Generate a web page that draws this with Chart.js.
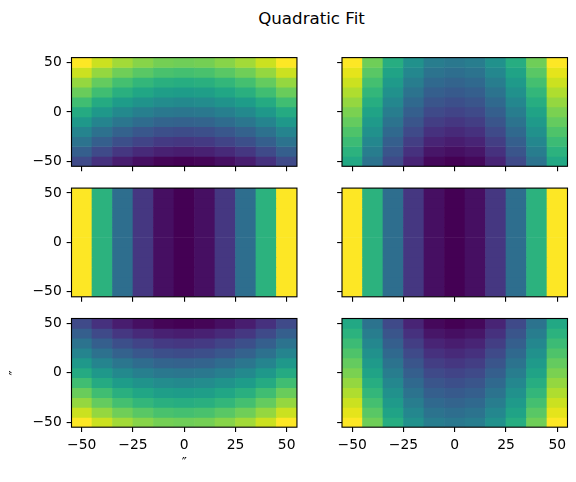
<!DOCTYPE html>
<html><head><meta charset="utf-8">
<script src="https://cdn.jsdelivr.net/npm/chart.js@4.4.1/dist/chart.umd.min.js"></script>
<style>
html,body{margin:0;padding:0;background:#fff;}
#fig{position:relative;width:576px;height:482px;overflow:hidden;background:#fff;}
#fig canvas{position:absolute;}
#title{position:absolute;top:11px;left:311.5px;transform:translateX(-50%);font:16.67px/1 "DejaVu Sans";color:#000;white-space:nowrap;}
</style></head><body>
<div id="fig"><div id="title"></div></div>
<script>
// ---- data ----
const chartTitle = 'Quadratic Fit';
const xCenters = [-50,-40,-30,-20,-10,0,10,20,30,40,50];
const yCenters = [50,40,30,20,10,0,-10,-20,-30,-40,-50]; // rows top -> bottom
const xTicks = [-50,-25,0,25,50];
const xTickLabels = ['\u221250','\u221225','0','25','50'];
const yTicks = [-50,0,50];
const yTickLabels = ['\u221250','0','50'];
const xLabel = '\u2033';
const yLabel = '\u2033';

const panel1 = [
[1.00,0.92,0.86,0.82,0.79,0.78,0.79,0.82,0.86,0.92,1.00],
[0.92,0.84,0.78,0.74,0.71,0.70,0.71,0.74,0.78,0.84,0.92],
[0.84,0.76,0.70,0.66,0.63,0.62,0.63,0.66,0.70,0.76,0.84],
[0.77,0.69,0.63,0.59,0.56,0.55,0.56,0.59,0.63,0.69,0.77],
[0.69,0.61,0.55,0.51,0.48,0.47,0.48,0.51,0.55,0.61,0.69],
[0.61,0.53,0.47,0.43,0.40,0.39,0.40,0.43,0.47,0.53,0.61],
[0.53,0.45,0.39,0.35,0.32,0.31,0.32,0.35,0.39,0.45,0.53],
[0.45,0.37,0.31,0.27,0.24,0.23,0.24,0.27,0.31,0.37,0.45],
[0.38,0.30,0.24,0.20,0.17,0.16,0.17,0.20,0.24,0.30,0.38],
[0.30,0.22,0.16,0.12,0.09,0.08,0.09,0.12,0.16,0.22,0.30],
[0.22,0.14,0.08,0.04,0.01,0.00,0.01,0.04,0.08,0.14,0.22]
];
const panel2 = [
[1.00,0.78,0.62,0.50,0.42,0.40,0.42,0.50,0.62,0.78,1.00],
[0.96,0.74,0.58,0.46,0.38,0.36,0.38,0.46,0.58,0.74,0.96],
[0.92,0.70,0.54,0.42,0.34,0.32,0.34,0.42,0.54,0.70,0.92],
[0.88,0.66,0.50,0.38,0.30,0.28,0.30,0.38,0.50,0.66,0.88],
[0.84,0.62,0.46,0.34,0.26,0.24,0.26,0.34,0.46,0.62,0.84],
[0.80,0.58,0.42,0.30,0.22,0.20,0.22,0.30,0.42,0.58,0.80],
[0.76,0.54,0.38,0.26,0.18,0.16,0.18,0.26,0.38,0.54,0.76],
[0.72,0.50,0.34,0.22,0.14,0.12,0.14,0.22,0.34,0.50,0.72],
[0.68,0.46,0.30,0.18,0.10,0.08,0.10,0.18,0.30,0.46,0.68],
[0.64,0.42,0.26,0.14,0.06,0.04,0.06,0.14,0.26,0.42,0.64],
[0.60,0.38,0.22,0.10,0.02,0.00,0.02,0.10,0.22,0.38,0.60]
];
const panel3 = [
[1.00,0.64,0.36,0.16,0.04,0.00,0.04,0.16,0.36,0.64,1.00],
[1.00,0.64,0.36,0.16,0.04,0.00,0.04,0.16,0.36,0.64,1.00],
[1.00,0.64,0.36,0.16,0.04,0.00,0.04,0.16,0.36,0.64,1.00],
[1.00,0.64,0.36,0.16,0.04,0.00,0.04,0.16,0.36,0.64,1.00],
[1.00,0.64,0.36,0.16,0.04,0.00,0.04,0.16,0.36,0.64,1.00],
[1.00,0.64,0.36,0.16,0.04,0.00,0.04,0.16,0.36,0.64,1.00],
[1.00,0.64,0.36,0.16,0.04,0.00,0.04,0.16,0.36,0.64,1.00],
[1.00,0.64,0.36,0.16,0.04,0.00,0.04,0.16,0.36,0.64,1.00],
[1.00,0.64,0.36,0.16,0.04,0.00,0.04,0.16,0.36,0.64,1.00],
[1.00,0.64,0.36,0.16,0.04,0.00,0.04,0.16,0.36,0.64,1.00],
[1.00,0.64,0.36,0.16,0.04,0.00,0.04,0.16,0.36,0.64,1.00]
];
const panel4 = [
[1.00,0.64,0.36,0.16,0.04,0.00,0.04,0.16,0.36,0.64,1.00],
[1.00,0.64,0.36,0.16,0.04,0.00,0.04,0.16,0.36,0.64,1.00],
[1.00,0.64,0.36,0.16,0.04,0.00,0.04,0.16,0.36,0.64,1.00],
[1.00,0.64,0.36,0.16,0.04,0.00,0.04,0.16,0.36,0.64,1.00],
[1.00,0.64,0.36,0.16,0.04,0.00,0.04,0.16,0.36,0.64,1.00],
[1.00,0.64,0.36,0.16,0.04,0.00,0.04,0.16,0.36,0.64,1.00],
[1.00,0.64,0.36,0.16,0.04,0.00,0.04,0.16,0.36,0.64,1.00],
[1.00,0.64,0.36,0.16,0.04,0.00,0.04,0.16,0.36,0.64,1.00],
[1.00,0.64,0.36,0.16,0.04,0.00,0.04,0.16,0.36,0.64,1.00],
[1.00,0.64,0.36,0.16,0.04,0.00,0.04,0.16,0.36,0.64,1.00],
[1.00,0.64,0.36,0.16,0.04,0.00,0.04,0.16,0.36,0.64,1.00]
];
const panel5 = [
[0.22,0.14,0.08,0.04,0.01,0.00,0.01,0.04,0.08,0.14,0.22],
[0.30,0.22,0.16,0.12,0.09,0.08,0.09,0.12,0.16,0.22,0.30],
[0.38,0.30,0.24,0.20,0.17,0.16,0.17,0.20,0.24,0.30,0.38],
[0.45,0.37,0.31,0.27,0.24,0.23,0.24,0.27,0.31,0.37,0.45],
[0.53,0.45,0.39,0.35,0.32,0.31,0.32,0.35,0.39,0.45,0.53],
[0.61,0.53,0.47,0.43,0.40,0.39,0.40,0.43,0.47,0.53,0.61],
[0.69,0.61,0.55,0.51,0.48,0.47,0.48,0.51,0.55,0.61,0.69],
[0.77,0.69,0.63,0.59,0.56,0.55,0.56,0.59,0.63,0.69,0.77],
[0.84,0.76,0.70,0.66,0.63,0.62,0.63,0.66,0.70,0.76,0.84],
[0.92,0.84,0.78,0.74,0.71,0.70,0.71,0.74,0.78,0.84,0.92],
[1.00,0.92,0.86,0.82,0.79,0.78,0.79,0.82,0.86,0.92,1.00]
];
const panel6 = [
[0.60,0.38,0.22,0.10,0.02,0.00,0.02,0.10,0.22,0.38,0.60],
[0.64,0.42,0.26,0.14,0.06,0.04,0.06,0.14,0.26,0.42,0.64],
[0.68,0.46,0.30,0.18,0.10,0.08,0.10,0.18,0.30,0.46,0.68],
[0.72,0.50,0.34,0.22,0.14,0.12,0.14,0.22,0.34,0.50,0.72],
[0.76,0.54,0.38,0.26,0.18,0.16,0.18,0.26,0.38,0.54,0.76],
[0.80,0.58,0.42,0.30,0.22,0.20,0.22,0.30,0.42,0.58,0.80],
[0.84,0.62,0.46,0.34,0.26,0.24,0.26,0.34,0.46,0.62,0.84],
[0.88,0.66,0.50,0.38,0.30,0.28,0.30,0.38,0.50,0.66,0.88],
[0.92,0.70,0.54,0.42,0.34,0.32,0.34,0.42,0.54,0.70,0.92],
[0.96,0.74,0.58,0.46,0.38,0.36,0.38,0.46,0.58,0.74,0.96],
[1.00,0.78,0.62,0.50,0.42,0.40,0.42,0.50,0.62,0.78,1.00]
];

// ---- styling ----
const VIR = ['#440154','#471365','#482475','#463480','#414487','#3b528b','#355f8d','#2f6c8e','#2a788e','#25848e','#21918c','#1e9c89','#22a884','#2fb47c','#44bf70','#5ec962','#7ad151','#9bd93c','#bddf26','#dfe318','#fde725'];
function hex2rgb(h){return [parseInt(h.slice(1,3),16),parseInt(h.slice(3,5),16),parseInt(h.slice(5,7),16)];}
const VIRRGB = VIR.map(hex2rgb);
function viridis(t){
  t = Math.max(0, Math.min(1, t));
  const f = t*(VIRRGB.length-1);
  const i = Math.min(Math.floor(f), VIRRGB.length-2);
  const u = f - i;
  const a = VIRRGB[i], b = VIRRGB[i+1];
  return 'rgb(' + a.map((c,k)=>Math.round(c+(b[k]-c)*u)).join(',') + ')';
}

const FONT = 'DejaVu Sans';
const FS = 13.89;
const TICKLEN = 4.86;
const TICKPAD = 4.86;
const LW = 1.11;

const cols = [
  {x:0,   w:310, pl:7, yw:64.5, pr:13.05},
  {x:310, w:266, pl:0, yw:32,   pr:8.5}
];
const rows = [
  {y:40,  h:137, pt:17.6, xh:10,   pb:0.7},
  {y:177, h:130, pt:11.1, xh:10,   pb:0.2},
  {y:307, h:175, pt:11.5, xh:44.1, pb:10.7}
];

const boxPlugin = {
  id: 'box',
  afterDraw(chart){
    const {ctx, chartArea:a} = chart;
    ctx.save();
    ctx.strokeStyle = '#000';
    ctx.lineWidth = LW;
    ctx.strokeRect(a.left, a.top, a.right-a.left, a.bottom-a.top);
    ctx.restore();
  }
};

const fig = document.getElementById('fig');
document.getElementById('title').textContent = chartTitle;

function makePanel(matrix, ci, ri) {
  const col = cols[ci], row = rows[ri];
  const c = document.createElement('canvas');
  c.width = col.w; c.height = row.h;
  c.style.left = col.x + 'px'; c.style.top = row.y + 'px';
  c.style.width = col.w + 'px'; c.style.height = row.h + 'px';
  fig.appendChild(c);

  const flat = matrix.flat();
  const mn = Math.min(...flat), mx = Math.max(...flat);
  const hx = Math.abs(xCenters[1]-xCenters[0])/2;
  const hy = Math.abs(yCenters[1]-yCenters[0])/2;
  const xmin = Math.min(...xCenters)-hx, xmax = Math.max(...xCenters)+hx;
  const ymin = Math.min(...yCenters)-hy, ymax = Math.max(...yCenters)+hy;

  const datasets = yCenters.map((yc, r) => ({
    data: xCenters.map(x => ({x: x, y: [yc-hy, yc+hy]})),
    backgroundColor: matrix[r].map(v => viridis((v-mn)/(mx-mn))),
    borderWidth: 0,
    barPercentage: 1,
    categoryPercentage: 1,
    grouped: false
  }));

  const showXLabels = ri === 2;
  const showYLabels = ci === 0;

  new Chart(c, {
    type: 'bar',
    data: {datasets},
    plugins: [boxPlugin],
    options: {
      responsive: false,
      animation: false,
      devicePixelRatio: 1,
      events: [],
      layout: {padding: {left: col.pl, right: col.pr, top: row.pt, bottom: row.pb}},
      plugins: {legend: {display: false}, tooltip: {enabled: false}, title: {display: false}},
      scales: {
        x: {
          type: 'linear', min: xmin, max: xmax, offset: false, stacked: false,
          afterBuildTicks: s => { s.ticks = xTicks.map(v => ({value: v})); },
          afterFit: s => { s.height = row.xh; s.paddingLeft = 0; s.paddingRight = 0; s.paddingTop = 0; s.paddingBottom = 0; },
          ticks: {
            autoSkip: false, maxRotation: 0, minRotation: 0, padding: TICKPAD, color: '#000',
            font: {family: FONT, size: FS},
            callback: (v, i) => showXLabels ? xTickLabels[i] : ''
          },
          grid: {offset: false, drawOnChartArea: false, drawTicks: true, tickLength: TICKLEN, color: '#000', tickColor: '#000', lineWidth: LW, tickWidth: LW},
          border: {display: false},
          title: {display: showXLabels && ci === 0, text: xLabel, padding: 0, color: '#000', font: {family: FONT, size: FS}}
        },
        y: {
          type: 'linear', min: ymin, max: ymax, stacked: false, beginAtZero: false,
          afterBuildTicks: s => { s.ticks = yTicks.map(v => ({value: v})); },
          afterFit: s => { s.width = col.yw; s.paddingLeft = 0; s.paddingRight = 0; s.paddingTop = 0; s.paddingBottom = 0; },
          ticks: {
            autoSkip: false, padding: TICKPAD, color: '#000',
            font: {family: FONT, size: FS},
            callback: (v, i) => showYLabels ? yTickLabels[i] : ''
          },
          grid: {drawOnChartArea: false, drawTicks: true, tickLength: TICKLEN, color: '#000', tickColor: '#000', lineWidth: LW, tickWidth: LW},
          border: {display: false},
          title: {display: showYLabels && ri === 2, text: yLabel, padding: 0, color: '#000', font: {family: FONT, size: FS}}
        }
      }
    }
  });
}

makePanel(panel1, 0, 0);
makePanel(panel2, 1, 0);
makePanel(panel3, 0, 1);
makePanel(panel4, 1, 1);
makePanel(panel5, 0, 2);
makePanel(panel6, 1, 2);
</script>
</body></html>
